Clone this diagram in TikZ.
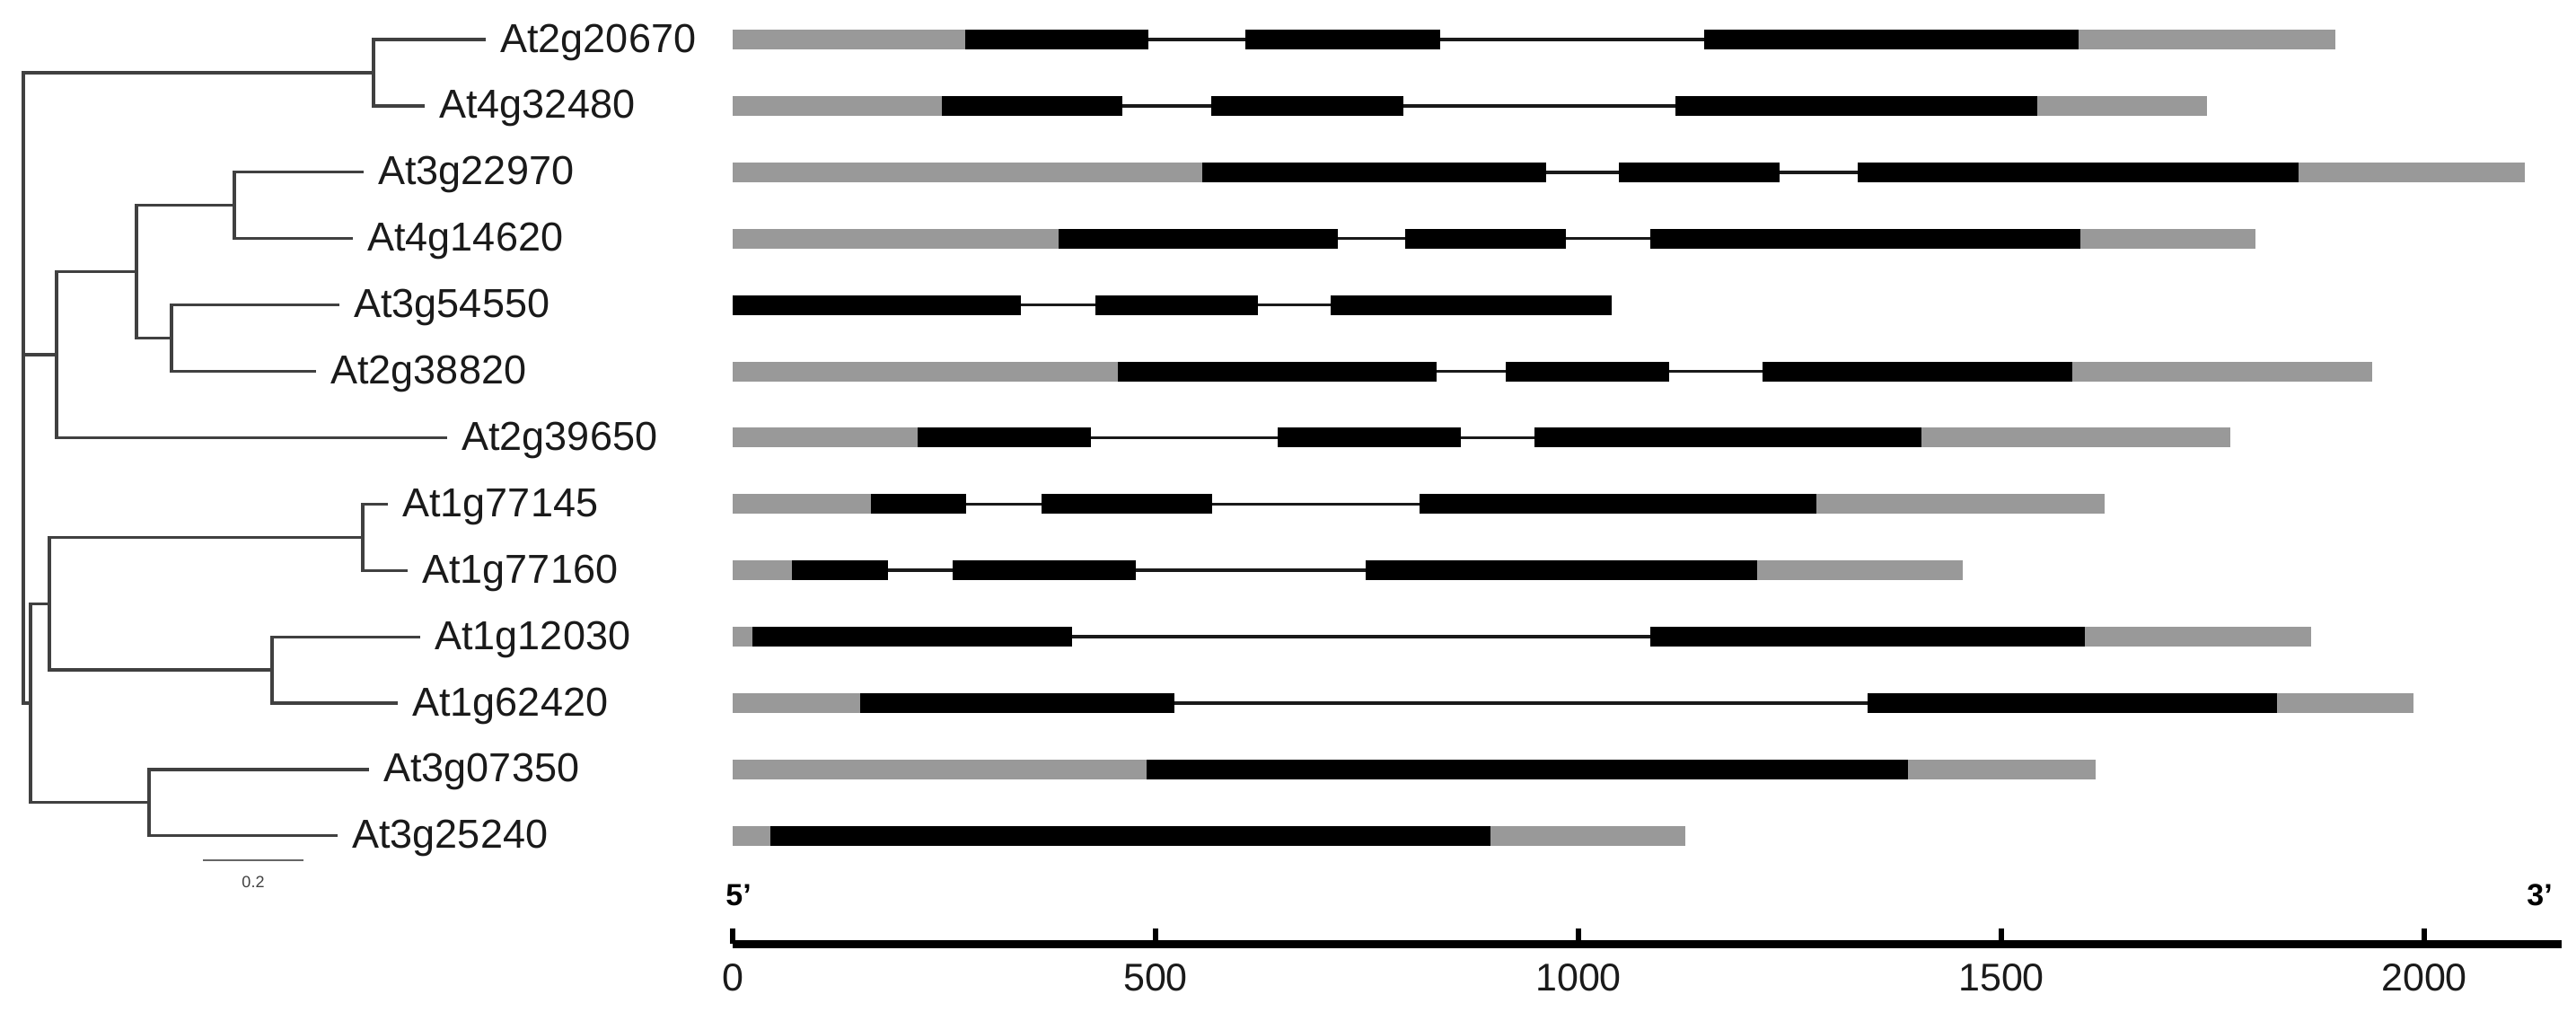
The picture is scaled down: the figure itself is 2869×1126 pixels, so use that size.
\documentclass[tikz,border=0pt]{standalone}
\usepackage{fontspec}
\setmainfont{Liberation Sans}
\definecolor{utrgray}{HTML}{999999}
\definecolor{treegray}{HTML}{404040}
\definecolor{textdark}{HTML}{1A1A1A}
\begin{document}
\begin{tikzpicture}[x=0.5pt,y=-0.5pt,
  branch/.style={draw=treegray,line width=1.6pt,line cap=rect},
  leaflabel/.style={anchor=base west,inner sep=0pt,font=\fontsize{22.5}{27}\selectfont,text=textdark},
  utr/.style={fill=utrgray},
  cds/.style={fill=black},
  intron/.style={draw=black!90,line width=1.75pt},
  axisline/.style={draw=black,line width=4.5pt},
  tickmark/.style={draw=black,line width=3pt},
  numlabel/.style={anchor=base,inner sep=0pt,font=\fontsize{21.5}{26}\selectfont,text=textdark},
  primelabel/.style={inner sep=0pt,font=\bfseries\fontsize{17}{20}\selectfont},
  scalebar/.style={draw=treegray!80,line width=1.4pt},
  scalelabel/.style={anchor=base,inner sep=0pt,font=\fontsize{9}{11}\selectfont,text=treegray}
]
\fill[white] (0,0) rectangle (2869,1126);
\useasboundingbox (0,0) rectangle (2869,1126);

% ---------- tree leaves and labels ----------
\foreach \n/\x/\name in {0/539/At2g20670,1/471/At4g32480,2/403/At3g22970,3/391/At4g14620,
  4/376/At3g54550,5/350/At2g38820,6/496/At2g39650,7/430/At1g77145,8/452/At1g77160,
  9/466/At1g12030,10/441/At1g62420,11/409/At3g07350,12/374/At3g25240}{
  \coordinate (L\n) at (\x,{44+73.9*\n});
  \node[leaflabel] (lab\n) at ([xshift=9pt,yshift=-7pt]L\n) {\name};
}

% ---------- internal nodes ----------
\coordinate (n01) at (416,81);
\coordinate (n23) at (261,228.75);
\coordinate (n45) at (191,376.55);
\coordinate (n2345) at (152,302.65);
\coordinate (n23456) at (63,395);
\coordinate (n78) at (404,598.25);
\coordinate (n910) at (303,746.05);
\coordinate (n78910) at (55,672.15);
\coordinate (n1112) at (166,893.85);
\coordinate (nc3) at (34,783);
\coordinate (root) at (26,395);

\draw[branch] (L0) -| (n01) |- (L1);
\draw[branch] (L2) -| (n23) |- (L3);
\draw[branch] (L4) -| (n45) |- (L5);
\draw[branch] (n23) -| (n2345) |- (n45);
\draw[branch] (n2345) -| (n23456) |- (L6);
\draw[branch] (L7) -| (n78) |- (L8);
\draw[branch] (L9) -| (n910) |- (L10);
\draw[branch] (n78) -| (n78910) |- (n910);
\draw[branch] (L11) -| (n1112) |- (L12);
\draw[branch] (n78910) -| (nc3) |- (n1112);
\draw[branch] (n01) -| (root) |- (nc3);
\draw[branch] (n23456) -- (root);

% ---------- scale bar ----------
\coordinate (sbL) at (226,958);
\coordinate (sbR) at (338,958);
\draw[scalebar] (sbL) -- (sbR);
\node[scalelabel] (sblab) at (282,988) {0.2};

% ---------- gene models (x in bp) ----------
\begin{scope}[xshift=408pt,xscale=0.942]
\foreach \r/\len/\first/\last/\ex in {
  0/1895/275/1591/{275/491,606/836,1149/1591},
  1/1743/247/1542/{247/461,566/793,1115/1542},
  2/2119/555/1851/{555/962,1048/1238,1330/1851},
  3/1800/385/1593/{385/716,795/985,1085/1593},
  4/1039/0/1039/{0/341,429/621,707/1039},
  5/1938/455/1584/{455/832,914/1107,1218/1584},
  6/1771/219/1405/{219/424,644/861,948/1405},
  7/1622/163/1281/{163/276,365/567,812/1281},
  8/1454/70/1211/{70/184,260/477,748/1211},
  9/1866/23/1599/{23/401,1085/1599},
  10/1987/151/1826/{151/522,1342/1826},
  11/1611/489/1390/{489/1390},
  12/1126/45/896/{45/896}}{
  \pgfmathsetmacro\yy{44+73.9*\r}
  \draw[intron] (\first,\yy) -- (\last,\yy);
  \fill[utr] (0,\yy-11) rectangle (\first,\yy+11);
  \fill[utr] (\last,\yy-11) rectangle (\len,\yy+11);
  \foreach \s/\e in \ex {\fill[cds] (\s,\yy-11) rectangle (\e,\yy+11);}
}

% ---------- axis ----------
\coordinate (ax0) at (0,1051);
\coordinate (ax1) at (2162,1051);
\draw[axisline] (ax0) -- (ax1);
\foreach \t in {0,500,1000,1500,2000}{
  \coordinate (tb\t) at (\t,1051);
  \coordinate (tt\t) at (\t,1034);
  \draw[tickmark] (tb\t) -- (tt\t);
  \node[numlabel] (tk\t) at (\t,1103) {\t};
}
\node[primelabel,anchor=base west] (five) at (-8.5,1008) {5'};
\node[primelabel,anchor=base east] (three) at (2152,1008) {3'};
\end{scope}
\end{tikzpicture}
\end{document}
